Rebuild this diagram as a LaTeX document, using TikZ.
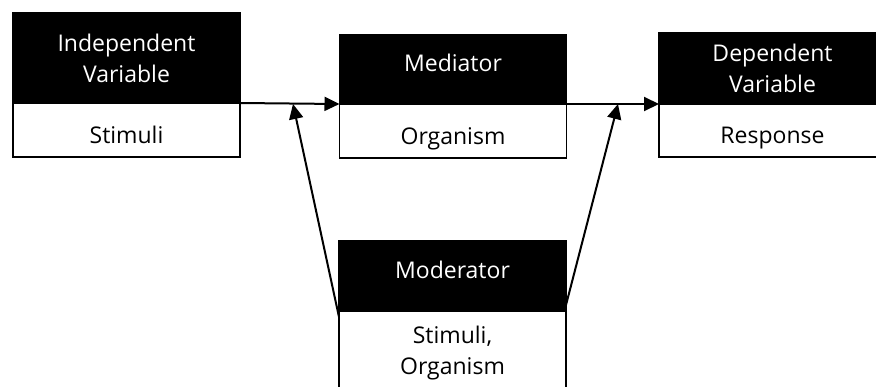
\documentclass[tikz,border=0pt]{standalone}
\usepackage{fontspec}
\setmainfont{Open Sans}
\usepackage{tikz}
\usetikzlibrary{positioning}
\usetikzlibrary{arrows.meta}
\tikzstyle{head} = [rectangle, draw, fill=black, text=white, minimum width=227pt, line width=1.5pt, inner sep=0pt, outer sep=0pt]
\tikzstyle{body} = [rectangle, draw, fill=white, minimum width=227pt, line width=1.5pt, inner sep=0pt, outer sep=0pt]
\tikzstyle{link} = [->, line width=2pt]

\begin{document}
\begin{tikzpicture}[x=1pt, y=1pt, >={Triangle[length=15pt,width=14pt]}, font=\fontsize{23}{31}\selectfont]
\useasboundingbox (0,0) rectangle (876,-386);
\clip (0,0) rectangle (876,-386);

    % independent variable
    \node[head, minimum height=90pt, align=center] (ivH) at (126.5,-58) {Independent\\Variable};
    \node[body, minimum height=54pt, below=0pt of ivH, text height=26pt, text depth=0pt] (ivB) {Stimuli};

    % mediator
    \node[head, minimum height=69pt, text depth=13pt] (medH) at (453,-69.5) {Mediator};
    \node[body, minimum height=54pt, below=0pt of medH, text height=26pt, text depth=0pt] (medB) {Organism};

    % dependent variable
    \node[head, minimum height=71pt, align=center] (depH) at (772.5,-68.5) {Dependent\\Variable};
    \node[body, minimum height=53pt, below=0pt of depH, text height=26pt, text depth=0pt] (depB) {Response};

    % moderator
    \node[head, minimum height=70pt, text depth=13pt] (modH) at (452.5,-276) {Moderator};
    \node[body, minimum height=84pt, below=0pt of modH, align=center] (modB) {Stimuli,\\Organism};

    \coordinate (j1) at (293,-104);
    \coordinate (j2) at (618,-104);

    \draw[link] (ivH.south east) -- (medH.south west);
    \draw[link] (medH.south east) -- (depH.south west);
    \draw[link] ([yshift=-6pt]modH.south west) -- (j1);
    \draw[link] ([yshift=6pt]modH.south east) -- (j2);
\end{tikzpicture}
\end{document}
